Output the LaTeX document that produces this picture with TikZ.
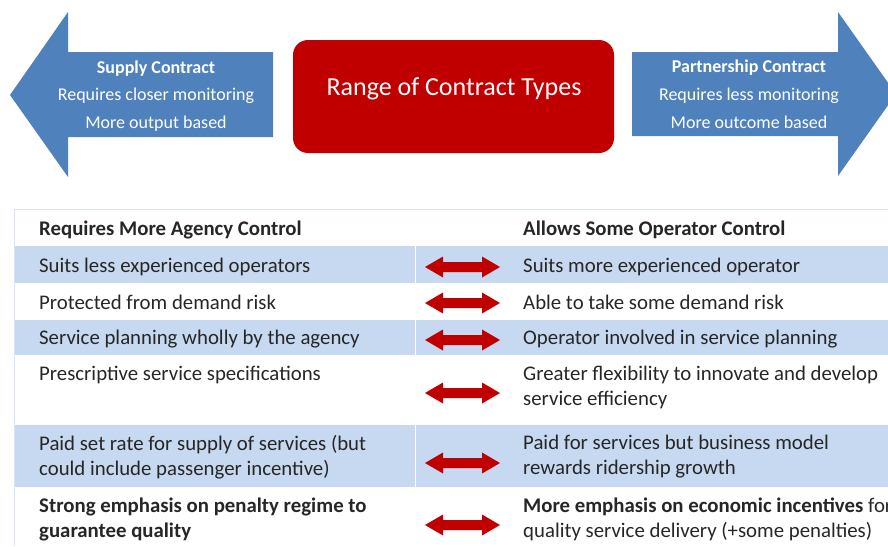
\documentclass[tikz,border=0pt]{standalone}
\usepackage{fontspec}
\setmainfont{Carlito}
\definecolor{arrblue}{HTML}{4F81BD}
\definecolor{boxred}{HTML}{C00000}
\definecolor{rowblue}{HTML}{C6D9F1}
\definecolor{rule}{HTML}{DCE6F2}
\definecolor{txt}{HTML}{262626}
\tikzset{
  arrtxt/.style={text=white, font=\fontsize{18}{20}\selectfont, inner sep=0pt},
  cell/.style={anchor=west, inner sep=0pt, text=txt, align=left, font=\fontsize{20.8}{25}\selectfont},
  rowfill/.style={fill=rowblue},
  dbl/.pic={\fill[boxred] (-37.5,0) -- (-19.5,-10.5) -- (-19.5,-5) -- (19.5,-5) -- (19.5,-10.5) -- (37.5,0) -- (19.5,10.5) -- (19.5,5) -- (-19.5,5) -- (-19.5,10.5) -- cycle;}
}
\begin{document}
\begin{tikzpicture}[x=1pt,y=-1pt]
\useasboundingbox (0,0) rectangle (888,546);
\clip (0,0) rectangle (888,546);
% big arrows
\fill[arrblue] (10,95) -- (68,12) -- (68,52) -- (273,52) -- (273,137) -- (68,137) -- (68,177) -- cycle;
\fill[arrblue] (896,94) -- (838,12) -- (838,52) -- (632,52) -- (632,136) -- (838,136) -- (838,176) -- cycle;
\node[arrtxt] (s1) at (156,68.5) {\textbf{Supply Contract}};
\node[arrtxt] (s2) at (156,95.5) {Requires closer monitoring};
\node[arrtxt] (s3) at (156,123.5) {More output based};
\node[arrtxt] (p1) at (749,67.5) {\textbf{Partnership Contract}};
\node[arrtxt] (p2) at (749,95.5) {Requires less monitoring};
\node[arrtxt] (p3) at (749,122.5) {More outcome based};
% red box
\node[fill=boxred, rounded corners=15pt, minimum width=321pt, minimum height=113pt, inner sep=0pt] (range) at (453.5,96.5) {};
\node[text=white, font=\fontsize{26}{28}\selectfont, inner sep=0pt] (title) at (454,88.5) {Range of Contract Types};
% table rows
\fill[rowfill] (14,246) rectangle (888,283);
\fill[rowfill] (14,320) rectangle (888,355);
\fill[rowfill] (14,425) rectangle (888,487);
\foreach \a/\b in {246/283,320/355,425/487} \draw[white, line width=1pt] (415,\a) -- (415,\b);
\draw[rule, line width=1pt] (14,209) -- (888,209);
\draw[rule, line width=1pt] (14,209) -- (14,546);
% header
\node[cell] (h1) at (39,229.5) {\textbf{Requires More Agency Control}};
\node[cell] (h2) at (523,229.5) {\textbf{Allows Some Operator Control}};
% rows
\node[cell] (l1) at (39,266.5) {Suits less experienced operators};
\node[cell] (r1) at (523,266.5) {Suits more experienced operator};
\node[cell] (l2) at (39,302.5) {Protected from demand risk};
\node[cell] (r2) at (523,302.5) {Able to take some demand risk};
\node[cell] (l3) at (39,339.5) {Service planning wholly by the agency};
\node[cell] (r3) at (523,339.5) {Operator involved in service planning};
\node[cell] (l4) at (39,374.5) {Prescriptive service specifications};
\node[cell] (r4) at (523,387) {Greater flexibility to innovate and develop\\service efficiency};
\node[cell] (l5) at (39,457) {Paid set rate for supply of services (but\\could include passenger incentive)};
\node[cell] (r5) at (523,457) {Paid for services but business model\\rewards ridership growth};
\node[cell] (l6) at (39,519) {\textbf{Strong emphasis on penalty regime to}\\\textbf{guarantee quality}};
\node[cell] (r6) at (523,519) {\textbf{More emphasis on economic incentives} for\\quality service delivery (+some penalties)};
% double arrows
\pic at (462.5,267) {dbl};
\pic at (462.5,303) {dbl};
\pic at (462.5,340) {dbl};
\pic at (462.5,393) {dbl};
\pic at (462.5,463) {dbl};
\pic at (462.5,525) {dbl};
\end{tikzpicture}
\end{document}
